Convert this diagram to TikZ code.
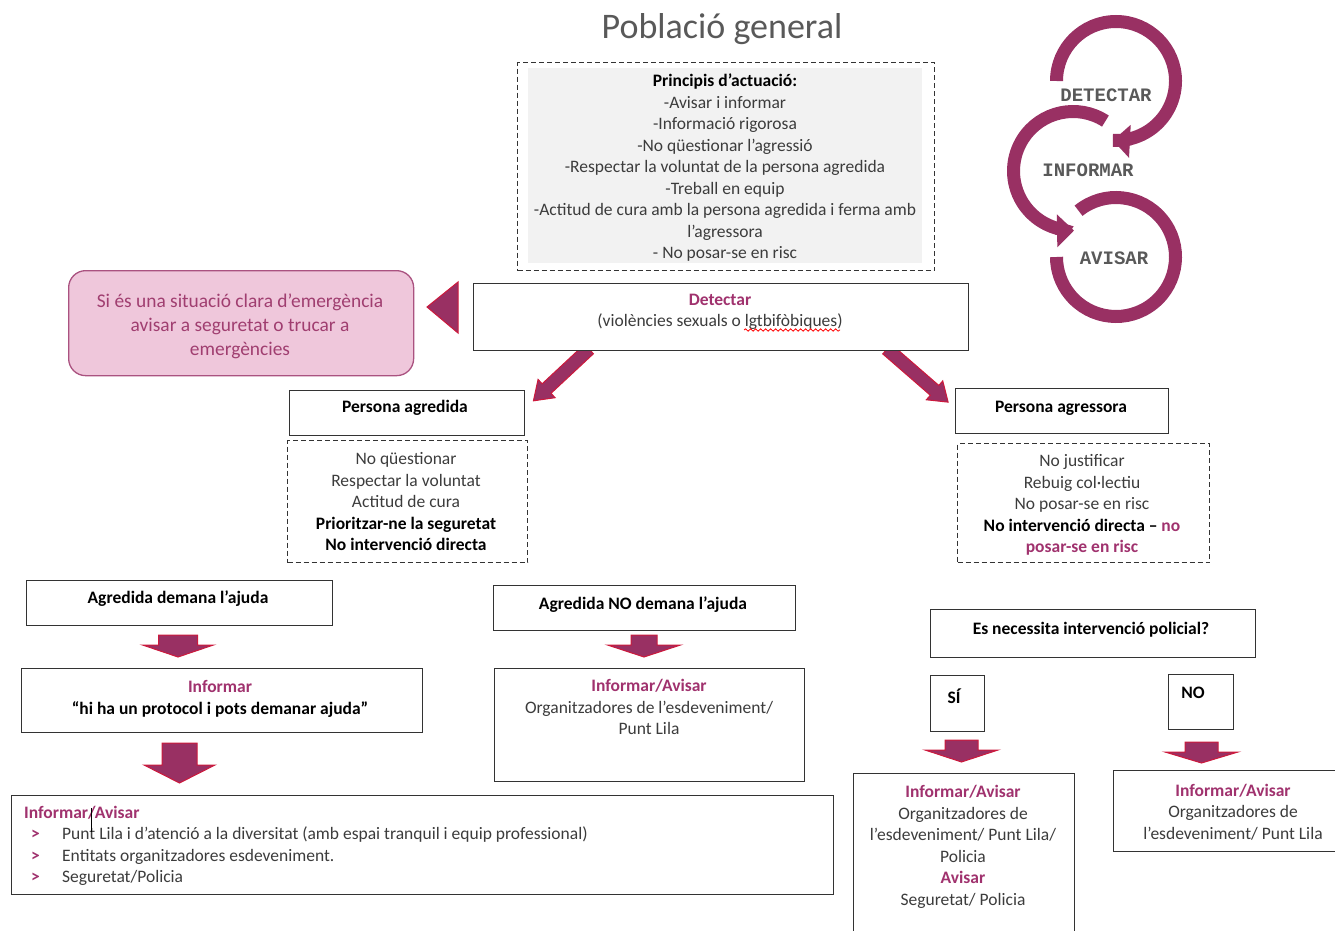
\documentclass[tikz,border=0pt]{standalone}
\usepackage{fontspec}
\setmainfont{Carlito}
\newfontfamily\cyclefont{Liberation Mono}
\usetikzlibrary{arrows.meta,decorations.pathmorphing}
\definecolor{plum}{RGB}{153,48,99}
\definecolor{arrowred}{RGB}{205,25,60}
\definecolor{headpurple}{RGB}{160,50,110}
\definecolor{bodygrey}{RGB}{60,60,60}
\definecolor{titlegrey}{RGB}{89,89,89}
\definecolor{principisfill}{RGB}{242,242,242}
\definecolor{emergfill}{RGB}{239,199,219}
\definecolor{emergline}{RGB}{170,82,128}
\definecolor{emergtext}{RGB}{160,62,112}
\newcommand{\hd}[1]{\textbf{\textcolor{headpurple}{#1}}}
\newcommand{\bk}[1]{\textbf{\textcolor{black}{#1}}}
\newcommand{\bul}{\hspace*{7pt}\makebox[31pt][l]{\hd{>}}}
\newcommand{\downblock}[6]{\draw[blockarr] (#1-#3,#2) -- (#1+#3,#2) -- (#1+#3,#2+#4) -- (#1+#5,#2+#4) -- (#1,#2+#4+#6) -- (#1-#5,#2+#4) -- (#1-#3,#2+#4) -- cycle;}
\begin{document}
\begin{tikzpicture}[x=1pt, y=-1pt,
  box/.style={draw=black!80, line width=1.3pt, fill=white, anchor=north west, inner sep=0pt},
  dashbox/.style={box, fill=none, dash pattern=on 5pt off 3pt},
  txt/.style={align=center, inner sep=0pt, text=bodygrey, font=\fontsize{17.5}{21.5}\selectfont},
  blockarr/.style={fill=plum, draw=arrowred, line width=1pt},
  ring/.style={draw=plum, line width=13pt},
  cyclelabel/.style={inner sep=0pt, text=titlegrey, font=\cyclefont\bfseries\fontsize{19}{19}\selectfont}]
\useasboundingbox (0,0) rectangle (1335,931);
\node[inner sep=0pt, text=titlegrey, font=\fontsize{36}{36}\selectfont] (titol) at (722,29) {Població general};

\fill[principisfill] (528,68) rectangle (922,263);
\node[dashbox, minimum width=417pt, minimum height=208pt] (principis) at (517,62) {};
\node[txt] (principistxt) at (725,168) {\bk{Principis d’actuació:}\\-Avisar i informar\\-Informació rigorosa\\-No qüestionar l’agressió\\-Respectar la voluntat de la persona agredida\\-Treball en equip\\-Actitud de cura amb la persona agredida i ferma amb\\l’agressora\\- No posar-se en risc};

\draw[ring] (1116,81) ++(180:59.5) arc[start angle=180, end angle=453, radius=59.5];
\draw[ring, -{Triangle[length=17pt, width=32pt]}] (1116,81) ++(436:59.5) arc[start angle=436, end angle=453, radius=59.5];
\draw[ring] (1073,171) ++(-57:59.5) arc[start angle=-57, end angle=-255, radius=59.5];
\draw[ring, -{Triangle[length=17pt, width=32pt]}] (1073,171) ++(-254:59.5) arc[start angle=-254, end angle=-271, radius=59.5];
\draw[ring] (1116,257) ++(-129:59.5) arc[start angle=-129, end angle=180, radius=59.5];
\node[cyclelabel] (detectarlbl) at (1106,95) {DETECTAR};
\node[cyclelabel] (informarlbl) at (1088,170) {INFORMAR};
\node[cyclelabel] (avisarlbl) at (1114,258) {AVISAR};

\node[box, draw=emergline, fill=emergfill, rounded corners=17pt, minimum width=345pt, minimum height=105pt] (emerg) at (68,270) {};
\node[txt, text=emergtext, font=\fontsize{19.4}{24}\selectfont] (emergtxt) at (240,326) {Si és una situació clara d’emergència\\avisar a seguretat o trucar a\\emergències};
\draw[blockarr] (427,307) -- (458,282) -- (458,333) -- cycle;

\begin{scope}[shift={(589,349)}, rotate=-137]
  \draw[blockarr] (0,-6.5) -- (58,-6.5) -- (58,-12.5) -- (76,0) -- (58,12.5) -- (58,6.5) -- (0,6.5) -- cycle;
\end{scope}
\begin{scope}[shift={(887,349)}, rotate=-41]
  \draw[blockarr] (0,-6.5) -- (63,-6.5) -- (63,-12.5) -- (81,0) -- (63,12.5) -- (63,6.5) -- (0,6.5) -- cycle;
\end{scope}
\node[box, minimum width=495pt, minimum height=67pt] (detectar) at (473,283) {};
\node[txt] (detectartxt) at (720,312) {\hd{Detectar}\\(violències sexuals o lgtbifòbiques)};
\draw[red, line width=0.8pt, decorate, decoration={snake, amplitude=1.2pt, segment length=5pt}] (744,330) -- (840,330);

\node[box, minimum width=235pt, minimum height=45pt] (agredida) at (289,390) {};
\node[txt] (agredidatxt) at (405,408) {\bk{Persona agredida}};
\node[dashbox, minimum width=240pt, minimum height=122pt] (agredidallista) at (287,440) {};
\node[txt] (agredidallistatxt) at (406,502) {No qüestionar\\Respectar la voluntat\\Actitud de cura\\\bk{Prioritzar-ne la seguretat}\\\bk{No intervenció directa}};

\node[box, minimum width=213pt, minimum height=45pt] (agressora) at (955,388) {};
\node[txt] (agressoratxt) at (1061,408) {\bk{Persona agressora}};
\node[dashbox, minimum width=252pt, minimum height=119pt] (agressorallista) at (957,443) {};
\node[txt] (agressorallistatxt) at (1082,505) {No justificar\\Rebuig col·lectiu\\No posar-se en risc\\\bk{No intervenció directa –} \hd{no}\\\hd{posar-se en risc}};

\node[box, minimum width=306pt, minimum height=45pt] (demana) at (26,580) {};
\node[txt] (demanatxt) at (178,599) {\bk{Agredida demana l’ajuda}};
\downblock{178}{635}{19.5}{10}{35.5}{12}
\node[box, minimum width=401pt, minimum height=64pt] (informar) at (21,668) {};
\node[txt] (informartxt) at (220,699) {\hd{Informar}\\\bk{“hi ha un protocol i pots demanar ajuda”}};
\downblock{179.5}{743}{17.5}{22}{35.5}{18}
\node[box, minimum width=822pt, minimum height=99pt] (avisartots) at (11,795) {};
\node[txt, align=left, anchor=west] (avisartotstxt) at (24,846) {\hd{Informar/Avisar}\\\bul Punt Lila i d’atenció a la diversitat (amb espai tranquil i equip professional)\\\bul Entitats organitzadores esdeveniment.\\\bul Seguretat/Policia};
\draw[line width=0.8pt] (91,808) -- (91,832);

\node[box, minimum width=302pt, minimum height=45pt] (nodemana) at (493,585) {};
\node[txt] (nodemanatxt) at (643,605) {\bk{Agredida NO demana l’ajuda}};
\downblock{644}{635}{13}{10}{36.5}{12}
\node[box, minimum width=310pt, minimum height=113pt] (puntlila) at (494,668) {};
\node[txt] (puntlilatxt) at (649,707) {\hd{Informar/Avisar}\\Organitzadores de l’esdeveniment/\\Punt Lila};

\node[box, minimum width=325pt, minimum height=48pt] (policial) at (930,609) {};
\node[txt] (policialtxt) at (1091,630) {\bk{Es necessita intervenció policial?}};
\node[box, minimum width=54pt, minimum height=56pt] (si) at (930,675) {};
\node[txt] (sitxt) at (954,696) {\bk{SÍ}};
\node[box, minimum width=65pt, minimum height=55pt] (no) at (1168,674) {};
\node[txt] (notxt) at (1193,693) {\bk{NO}};
\downblock{961.5}{740}{16.5}{10}{36.5}{12}
\downblock{1201.5}{742}{16.5}{10}{36.5}{11}
\node[box, minimum width=221pt, minimum height=170pt] (siavisar) at (853,773) {};
\node[txt] (siavisartxt) at (963,847) {\hd{Informar/Avisar}\\Organitzadores de\\l’esdeveniment/ Punt Lila/\\Policia\\\hd{Avisar}\\Seguretat/ Policia};
\node[box, minimum width=230pt, minimum height=81pt] (noavisar) at (1113,770) {};
\node[txt] (noavisartxt) at (1233,812) {\hd{Informar/Avisar}\\Organitzadores de\\l’esdeveniment/ Punt Lila};
\end{tikzpicture}
\end{document}
